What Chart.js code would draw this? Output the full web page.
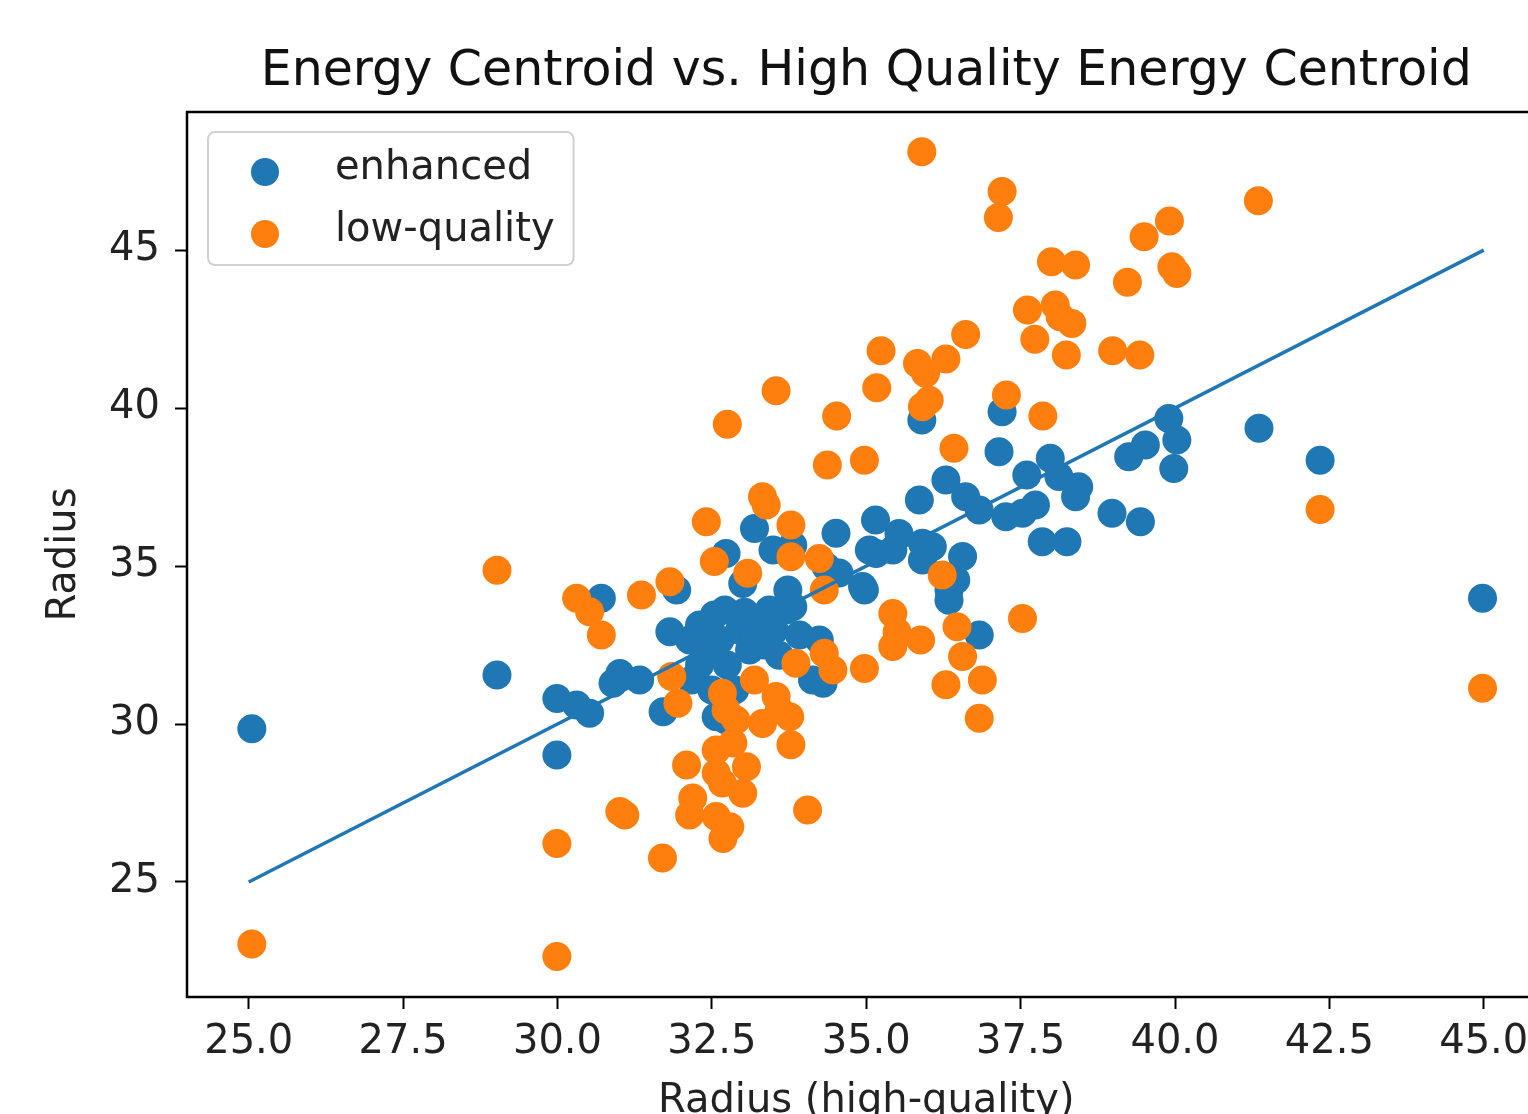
<!DOCTYPE html>
<html>
<head>
<meta charset="utf-8">
<script src="https://cdn.jsdelivr.net/npm/chart.js@4.4.1/dist/chart.umd.min.js"></script>
<style>
  html, body { margin: 0; padding: 0; background: #fff; overflow: hidden; }
  #wrap { width: 1528px; height: 1114px; overflow: hidden; }
</style>
</head>
<body>
<div id="wrap"><canvas id="chart" width="1560" height="1150"></canvas></div>
<script>
const FONT = "'DejaVu Sans', sans-serif"

const BLUE = '#1f77b4'
const ORANGE = '#ff7f0e'

const title = 'Energy Centroid vs. High Quality Energy Centroid'
const xLabel = 'Radius (high-quality)'
const yLabel = 'Radius'

const xTicks = [25, 27.5, 30, 32.5, 35, 37.5, 40, 42.5, 45]
const yTicks = [25, 30, 35, 40, 45]
const xRange = [24, 46]
const yRange = [21.36, 49.37]

// identity line
const lineX = [25, 45]
const lineY = [25, 45]

const enhancedX = [
  25.05, 29.02, 29.99, 29.99, 30.31, 30.52, 30.71, 30.90, 31.01, 31.33,
  31.71, 31.82, 31.93, 32.14, 32.30, 32.30, 32.46, 32.54, 32.63, 32.71,
  32.75, 32.87, 32.95, 33.03, 33.11, 33.19, 33.27, 33.35, 33.43, 33.51,
  33.59, 33.70, 33.81, 33.92, 34.24, 32.17, 32.50, 32.57, 32.73, 33.00,
  32.73, 33.19, 33.49, 33.81, 33.73, 34.13, 34.30, 34.51, 34.35, 34.56,
  34.94, 34.97, 35.05, 35.15, 35.43, 35.53, 35.16, 35.86, 35.90, 35.91,
  35.91, 36.07, 36.29, 36.34, 36.34, 36.45, 36.56, 36.61, 36.83, 36.83,
  37.15, 37.20, 37.26, 37.53, 37.74, 37.60, 37.85, 38.25, 37.98, 38.12,
  38.44, 38.39, 38.98, 39.44, 39.25, 39.52, 39.90, 40.03, 39.98, 41.36,
  42.35, 44.98,
]
const enhancedY = [
  29.85, 31.55, 30.81, 29.02, 30.60, 30.34, 33.98, 31.29, 31.60, 31.39,
  30.39, 32.92, 34.24, 32.66, 33.13, 31.87, 32.34, 33.45, 32.66, 33.61,
  31.87, 31.08, 32.97, 33.54, 32.34, 32.82, 33.29, 32.50, 33.61, 32.97,
  32.18, 33.61, 33.71, 32.82, 32.66, 31.39, 31.08, 30.23, 30.13, 34.45,
  35.40, 36.19, 35.51, 35.66, 34.24, 31.39, 31.29, 36.04, 34.98, 34.78,
  34.35, 34.24, 35.51, 36.46, 35.51, 36.03, 35.40, 37.09, 39.62, 35.72,
  35.19, 35.61, 37.72, 34.24, 33.92, 34.56, 35.30, 37.19, 36.77, 32.82,
  38.62, 39.88, 36.56, 36.67, 36.93, 37.88, 35.77, 35.77, 38.41, 37.83,
  37.51, 37.19, 36.67, 36.40, 38.46, 38.83, 39.67, 38.99, 38.09, 39.36,
  38.35, 33.98,
]

const lowX = [
  25.05, 29.99, 29.99, 29.02, 30.31, 30.52, 30.71, 31.01, 31.09, 31.36,
  31.70, 31.82, 31.85, 31.95, 32.09, 32.19, 32.14, 32.41, 32.54, 32.57,
  32.57, 32.67, 32.57, 32.79, 32.68, 32.67, 32.73, 32.89, 32.84, 32.75,
  33.08, 33.06, 33.00, 33.19, 33.32, 33.38, 33.32, 33.54, 33.54, 33.59,
  33.76, 33.78, 33.78, 33.78, 33.86, 34.05, 34.24, 34.32, 34.32, 34.46,
  34.37, 34.52, 34.97, 34.97, 35.17, 35.24, 35.43, 35.43, 35.50, 35.88,
  35.90, 35.83, 35.96, 36.02, 35.91, 36.23, 36.29, 36.29, 36.42, 36.47,
  36.56, 36.61, 36.83, 36.88, 37.14, 37.20, 37.27, 37.53, 37.61, 37.73,
  37.86, 38.00, 38.06, 38.14, 38.33, 38.24, 38.39, 38.99, 39.23, 39.43,
  39.50, 39.91, 39.95, 40.03, 41.35, 42.35, 44.98,
]
const lowY = [
  23.04, 22.64, 26.22, 34.87, 33.98, 33.55, 32.82, 27.23, 27.12, 34.08,
  25.76, 34.50, 31.50, 30.66, 28.70, 27.66, 27.12, 36.40, 35.14, 29.18,
  28.45, 28.13, 27.07, 26.75, 26.38, 30.97, 30.44, 30.13, 29.40, 39.49,
  34.77, 28.65, 27.81, 31.39, 37.19, 36.93, 30.02, 40.55, 30.87, 30.44,
  30.23, 36.30, 35.29, 29.34, 31.92, 27.28, 35.24, 34.24, 32.24, 31.71,
  38.20, 39.75, 38.35, 31.76, 40.64, 41.81, 33.50, 32.45, 32.91, 32.66,
  48.11, 41.41, 41.10, 40.25, 40.04, 34.72, 41.55, 31.24, 38.73, 33.08,
  32.14, 42.33, 30.18, 31.39, 46.03, 46.85, 40.41, 33.34, 43.10, 42.18,
  39.75, 44.63, 43.26, 42.89, 42.68, 41.68, 44.53, 41.81, 43.98, 41.68,
  45.42, 45.92, 44.47, 44.26, 46.56, 36.79, 31.13,
]

const pts = (xs, ys) => xs.map((x, i) => ({x, y: ys[i]}))

const legendItems = [
  {label: 'enhanced', color: BLUE},
  {label: 'low-quality', color: ORANGE},
]

// frame (spines) and the boxed legend in the upper left of the axes
const frameAndLegend = {
  id: 'frameAndLegend',
  afterDatasetsDraw(chart) {
    const {ctx, chartArea: a} = chart
    ctx.save()
    ctx.lineWidth = 2.5
    ctx.strokeStyle = '#000'
    ctx.strokeRect(a.left, a.top, a.right - a.left, a.bottom - a.top)

    ctx.font = `40px ${FONT}`
    const textW = Math.max(...legendItems.map((it) => ctx.measureText(it.label).width))
    const bx = a.left + 21
    const by = a.top + 20
    const bw = 127 + textW + 19
    const bh = 133
    ctx.beginPath()
    ctx.roundRect(bx, by, bw, bh, 7)
    ctx.fillStyle = 'rgba(255,255,255,0.8)'
    ctx.fill()
    ctx.lineWidth = 2
    ctx.strokeStyle = 'rgba(204,204,204,0.9)'
    ctx.stroke()

    legendItems.forEach((it, i) => {
      const cy = by + 40 + i * 62
      ctx.beginPath()
      ctx.arc(bx + 57, cy, 14, 0, Math.PI * 2)
      ctx.fillStyle = it.color
      ctx.fill()
      ctx.fillStyle = '#222'
      ctx.textBaseline = 'middle'
      ctx.textAlign = 'left'
      ctx.fillText(it.label, bx + 127, cy - 3)
    })
    ctx.restore()
  },
}

const tickFont = {family: FONT, size: 40}

new Chart(document.getElementById('chart'), {
  type: 'scatter',
  data: {
    datasets: [
      {
        type: 'line',
        label: 'identity',
        data: pts(lineX, lineY),
        borderColor: BLUE,
        borderWidth: 3.5,
        pointRadius: 0,
        fill: false,
        order: 0,
      },
      {
        label: 'low-quality',
        data: pts(lowX, lowY),
        backgroundColor: ORANGE,
        borderColor: ORANGE,
        borderWidth: 0,
        pointRadius: 14.5,
        order: 1,
      },
      {
        label: 'enhanced',
        data: pts(enhancedX, enhancedY),
        backgroundColor: BLUE,
        borderColor: BLUE,
        borderWidth: 0,
        pointRadius: 14.5,
        order: 2,
      },
    ],
  },
  options: {
    responsive: false,
    animation: false,
    layout: {padding: {left: 0, right: 12, top: 0, bottom: 0}},
    plugins: {
      legend: {display: false},
      tooltip: {enabled: false},
      title: {
        display: true,
        text: title,
        fullSize: false,
        color: '#111',
        font: {family: FONT, size: 49, weight: 'normal'},
        padding: {top: 43, bottom: 10.2},
      },
    },
    scales: {
      x: {
        type: 'linear',
        min: xRange[0],
        max: xRange[1],
        afterBuildTicks: (s) => { s.ticks = xTicks.map((v) => ({value: v})) },
        afterFit: (s) => { s.height = 153 },
        grid: {drawOnChartArea: false, drawTicks: true, tickLength: 12, tickColor: '#000', tickWidth: 2},
        border: {display: false},
        ticks: {
          color: '#222', font: tickFont, padding: 10, maxRotation: 0, autoSkip: false,
          callback: (v) => Number(v).toFixed(1),
        },
        title: {display: true, text: xLabel, color: '#222', font: tickFont, padding: {top: 0, bottom: 24}},
      },
      y: {
        type: 'linear',
        min: yRange[0],
        max: yRange[1],
        afterBuildTicks: (s) => { s.ticks = yTicks.map((v) => ({value: v})) },
        afterFit: (s) => { s.width = 187 },
        grid: {drawOnChartArea: false, drawTicks: true, tickLength: 12, tickColor: '#000', tickWidth: 2},
        border: {display: false},
        ticks: {color: '#222', font: tickFont, padding: 15, autoSkip: false},
        title: {display: true, text: yLabel, color: '#222', font: tickFont, padding: {top: 41, bottom: 0}},
      },
    },
  },
  plugins: [frameAndLegend],
})
</script>
</body>
</html>
